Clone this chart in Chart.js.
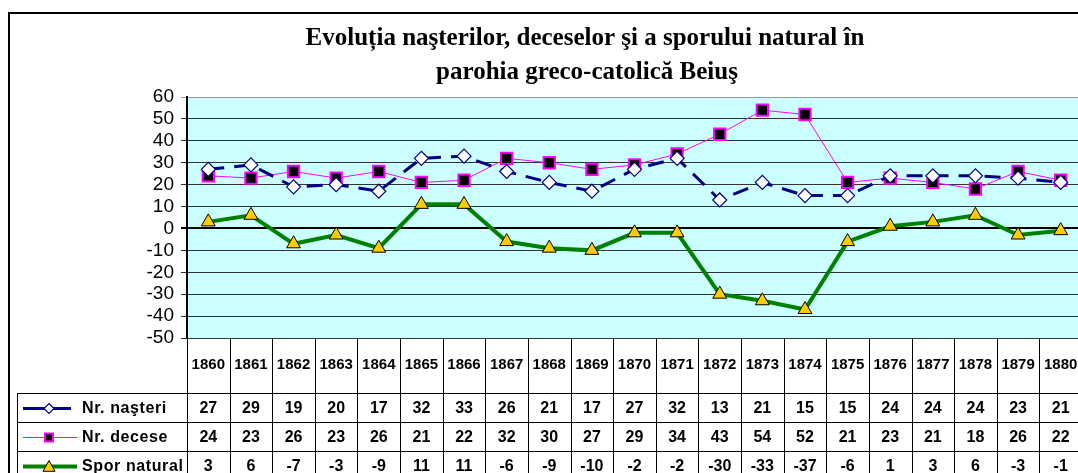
<!DOCTYPE html>
<html>
<head>
<meta charset="utf-8">
<script src="https://cdn.jsdelivr.net/npm/chart.js@4"></script>
<style>
    html, body { margin: 0; padding: 0; background: #fff; overflow: hidden; }
    #wrap { position: absolute; left: 0; top: 0; width: 1160px; height: 480px; }
</style>
</head>
<body>
<div id="wrap"><canvas id="chart" width="1160" height="480"></canvas></div>
<script>
const years = ['1860', '1861', '1862', '1863', '1864', '1865', '1866', '1867', '1868', '1869', '1870',
    '1871', '1872', '1873', '1874', '1875', '1876', '1877', '1878', '1879', '1880'];
const births = [27, 29, 19, 20, 17, 32, 33, 26, 21, 17, 27, 32, 13, 21, 15, 15, 24, 24, 24, 23, 21];
const deaths = [24, 23, 26, 23, 26, 21, 22, 32, 30, 27, 29, 34, 43, 54, 52, 21, 23, 21, 18, 26, 22];
const natural = [3, 6, -7, -3, -9, 11, 11, -6, -9, -10, -2, -2, -30, -33, -37, -6, 1, 3, 6, -3, -1];
const seriesNames = ['Nr. naşteri', 'Nr. decese', 'Spor natural'];
const titleLines = ['Evoluția naşterilor, deceselor şi a sporului natural în', 'parohia greco-catolică Beiuş'];
const yMin = -50;
const yMax = 60;
const yStep = 10;

const colors = {
    navy: '#000080',
    magenta: '#ff00ff',
    green: '#008000',
    yellow: '#ffcc00',
    plotBg: '#ccffff',
    grid: '#333333'
};

const rowH = 29;
const legendLeft = 17;

function drawMarker(ctx, style, x, y, r, fill, stroke, lw) {
    ctx.save();
    ctx.beginPath();
    if (style === 'diamond') {
        ctx.moveTo(x, y - r); ctx.lineTo(x + r, y); ctx.lineTo(x, y + r); ctx.lineTo(x - r, y);
    } else if (style === 'square') {
        ctx.rect(x - r, y - r, 2 * r, 2 * r);
    } else {
        ctx.moveTo(x, y - r); ctx.lineTo(x + r, y + r * 0.8); ctx.lineTo(x - r, y + r * 0.8);
    }
    ctx.closePath();
    ctx.fillStyle = fill;
    ctx.fill();
    ctx.lineWidth = lw;
    ctx.strokeStyle = stroke;
    ctx.stroke();
    ctx.restore();
}

const backdrop = {
    id: 'backdrop',
    beforeDraw(chart) {
        const { ctx, chartArea: a } = chart;
        ctx.save();
        ctx.fillStyle = colors.plotBg;
        ctx.fillRect(a.left, a.top, a.right - a.left, a.bottom - a.top);
        ctx.fillStyle = '#000';
        ctx.font = 'bold 25px "Liberation Serif", "Times New Roman", serif';
        ctx.textAlign = 'center';
        ctx.textBaseline = 'middle';
        ctx.fillText(titleLines[0], 585, 39);
        ctx.fillText(titleLines[1], 587, 73);
        ctx.restore();
    }
};

const dataTable = {
    id: 'dataTable',
    afterDraw(chart) {
        const { ctx, chartArea: a } = chart;
        const xs = chart.scales.x;
        const half = (xs.getPixelForValue(1) - xs.getPixelForValue(0)) / 2;
        const headBottom = xs.bottom;
        const tableBottom = headBottom + rowH * 3;
        const right = xs.getPixelForValue(years.length - 1) + half;
        ctx.save();
        ctx.strokeStyle = '#000';
        ctx.lineWidth = 1;
        for (let i = 0; i <= years.length; i++) {
            const bx = Math.round(xs.getPixelForValue(0) - half + i * 2 * half) + 0.5;
            ctx.beginPath();
            ctx.moveTo(bx, a.bottom);
            ctx.lineTo(bx, tableBottom);
            ctx.stroke();
        }
        for (let r = 0; r <= 3; r++) {
            const y = Math.round(headBottom + r * rowH) + 0.5;
            ctx.beginPath();
            ctx.moveTo(legendLeft, y);
            ctx.lineTo(right, y);
            ctx.stroke();
        }
        ctx.beginPath();
        ctx.moveTo(legendLeft + 0.5, headBottom);
        ctx.lineTo(legendLeft + 0.5, tableBottom);
        ctx.stroke();

        const rows = [births, deaths, natural];
        ctx.fillStyle = '#000';
        ctx.font = 'bold 16px "Liberation Sans", Arial, sans-serif';
        ctx.textAlign = 'center';
        ctx.textBaseline = 'middle';
        rows.forEach((vals, r) => {
            const cy = headBottom + r * rowH + rowH / 2 + 1;
            vals.forEach((v, i) => {
                ctx.fillText(String(v), xs.getPixelForValue(i), cy);
            });
        });

        ctx.textAlign = 'left';
        ctx.font = 'bold 16px "Liberation Sans", Arial, sans-serif';
        ctx.letterSpacing = '0.6px';
        const keys = [
            { color: colors.navy, lw: 3, end: 71, style: 'diamond', r: 5, fill: '#fff', stroke: colors.navy, mlw: 1.2 },
            { color: colors.magenta, lw: 1, end: 77, style: 'square', r: 4, fill: '#000', stroke: colors.magenta, mlw: 2 },
            { color: colors.green, lw: 4, end: 77, style: 'triangle', r: 6, fill: colors.yellow, stroke: '#000', mlw: 1 }
        ];
        keys.forEach((k, r) => {
            const cy = headBottom + r * rowH + rowH / 2 + 1;
            ctx.strokeStyle = k.color;
            ctx.lineWidth = k.lw;
            ctx.beginPath();
            ctx.moveTo(23, cy);
            ctx.lineTo(k.end, cy);
            ctx.stroke();
            drawMarker(ctx, k.style, 49, cy, k.r, k.fill, k.stroke, k.mlw);
            ctx.fillStyle = '#000';
            ctx.fillText(seriesNames[r], 82, cy);
        });
        ctx.letterSpacing = '0px';

        ctx.strokeStyle = '#000';
        ctx.lineWidth = 2;
        ctx.strokeRect(9, 13, 1140, 500);
        ctx.restore();
    }
};

new Chart(document.getElementById('chart').getContext('2d'), {
    type: 'line',
    data: {
        labels: years,
        datasets: [
            {
                label: seriesNames[0],
                data: births,
                borderColor: colors.navy,
                borderWidth: 3,
                borderDash: [16, 10],
                pointStyle: 'rectRot',
                pointRadius: 7,
                pointBackgroundColor: '#fff',
                pointBorderColor: colors.navy,
                pointBorderWidth: 1.2,
                tension: 0
            },
            {
                label: seriesNames[1],
                data: deaths,
                borderColor: colors.magenta,
                borderWidth: 1,
                pointStyle: 'rect',
                pointRadius: 8,
                pointBackgroundColor: '#000',
                pointBorderColor: colors.magenta,
                pointBorderWidth: 2,
                tension: 0
            },
            {
                label: seriesNames[2],
                data: natural,
                borderColor: colors.green,
                borderWidth: 4,
                pointStyle: 'triangle',
                pointRadius: 8,
                pointBackgroundColor: colors.yellow,
                pointBorderColor: '#000',
                pointBorderWidth: 1,
                tension: 0
            }
        ]
    },
    options: {
        responsive: false,
        animation: false,
        layout: { padding: { left: 0, right: 78, top: 97, bottom: rowH * 3 } },
        plugins: {
            legend: { display: false },
            tooltip: { enabled: false },
            title: { display: false }
        },
        scales: {
            x: {
                offset: true,
                grid: { display: false, drawTicks: false },
                border: { display: false },
                ticks: {
                    color: '#000',
                    padding: 18,
                    maxRotation: 0,
                    autoSkip: false,
                    font: { family: '"Liberation Sans", Arial, sans-serif', size: 15, weight: 'bold' }
                },
                afterFit: (scale) => { scale.height = 55; }
            },
            y: {
                min: yMin,
                max: yMax,
                ticks: {
                    stepSize: yStep,
                    autoSkip: false,
                    color: '#000',
                    padding: 7,
                    font: { family: '"Liberation Sans", Arial, sans-serif', size: 19 }
                },
                grid: {
                    tickLength: 6,
                    color: (c) => c.tick && c.tick.value === 0 ? '#000' : (c.tick && c.tick.value === yMax ? '#999' : colors.grid),
                    lineWidth: (c) => c.tick && c.tick.value === 0 ? 2 : 1
                },
                border: { color: '#000', width: 2 },
                afterFit: (scale) => { scale.width = 187; }
            }
        }
    },
    plugins: [backdrop, dataTable]
});
</script>
</body>
</html>
